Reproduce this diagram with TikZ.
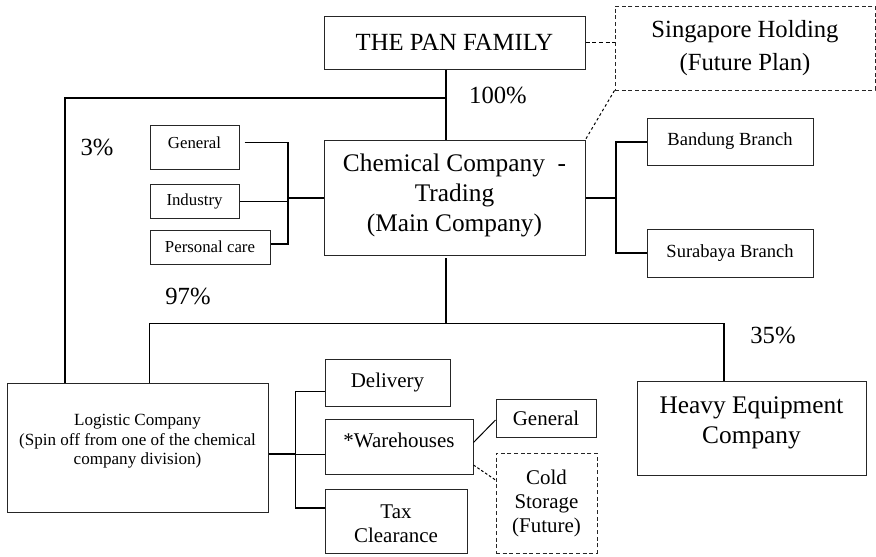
\documentclass[tikz,border=0pt]{standalone}
\usepackage{fontspec}
\setmainfont{Liberation Serif}
\begin{document}
\begin{tikzpicture}[x=0.75pt, y=-0.75pt,
  box/.style={draw=black!85, line width=0.75pt, align=center, inner sep=0pt},
  futurebox/.style={box, dash pattern=on 3pt off 2pt},
  main/.style={line width=1.5pt},
  thinline/.style={line width=0.75pt},
  lbl/.style={inner sep=0pt, font=\fontsize{18.5}{22}\selectfont},
  fhuge/.style={font=\fontsize{18.5}{24.75}\selectfont},
  fbig/.style={font=\fontsize{19}{22.5}\selectfont},
  fmid/.style={font=\fontsize{15.7}{17.5}\selectfont},
  fbranch/.style={font=\fontsize{13.9}{16}\selectfont},
  fsmall/.style={font=\fontsize{12.6}{14.6}\selectfont},
]
\useasboundingbox (0,0) rectangle (876,557);

% ---- top level ----
\node[box, fhuge, minimum width=195.75pt, minimum height=39.75pt] (pan) at (454.5,42.5) {THE PAN FAMILY};
\node[futurebox, fhuge, minimum width=195pt, minimum height=63pt] (sing) at (745,48) {Singapore Holding\\(Future Plan)};
\node[box, fbig, minimum width=195.75pt, minimum height=86.25pt, text depth=7pt] (chem) at (454.5,197.5) {Chemical Company\ \ -\\Trading\\(Main Company)};

% ---- divisions of the chemical company ----
\node[box, fsmall, minimum width=66.75pt, minimum height=33pt, text depth=6pt] (gen) at (194.5,147) {General};
\node[box, fsmall, minimum width=66.75pt, minimum height=25.5pt] (ind) at (194.5,201) {Industry};
\node[box, fsmall, minimum width=90pt, minimum height=25.5pt] (pc) at (210,247) {Personal care};

% ---- branches ----
\node[box, fbranch, minimum width=124.5pt, minimum height=35.25pt] (band) at (730,141.5) {Bandung Branch};
\node[box, fbranch, minimum width=124.5pt, minimum height=36pt] (sura) at (730,253) {Surabaya Branch};

% ---- subsidiaries ----
\node[box, font=\fontsize{12.8}{14.6}\selectfont, minimum width=195.75pt, minimum height=96.75pt, text depth=12pt] (logi) at (137.5,447.5) {Logistic Company\\(Spin off from one of the chemical\\company division)};
\node[box, fbig, minimum width=171.75pt, minimum height=70.5pt, text depth=12pt] (heavy) at (751.5,428) {Heavy Equipment\\Company};

% ---- logistic services ----
\node[box, fmid, minimum width=93.75pt, minimum height=35.25pt] (del) at (387.5,382.5) {Delivery};
\node[box, fmid, minimum width=111pt, minimum height=41.25pt, text depth=9.75pt] (wh) at (399,446.5) {*Warehouses};
\node[box, fmid, minimum width=106.5pt, minimum height=48pt, text height=32pt] (tax) at (396,521) {Tax\\Clearance};
\node[box, fmid, minimum width=75pt, minimum height=28.5pt] (whgen) at (546,418) {General};
\node[futurebox, font=\fontsize{15.7}{18}\selectfont, minimum width=75.75pt, minimum height=75pt] (cold) at (546.5,503) {Cold\\Storage\\(Future)};

% ---- ownership labels ----
\node[lbl] (p100) at (498,95) {100\%};
\node[lbl] (p3) at (97,147) {3\%};
\node[lbl] (p97) at (188,296) {97\%};
\node[lbl] (p35) at (773,335) {35\%};

% ---- junction points ----
\coordinate (famjoin) at (446,98);
\coordinate (leftcorner) at (65,98);
\coordinate (lbar) at (288,195);
\coordinate (rbar) at (616,195);
\coordinate (botjoin) at (446,323);
\coordinate (lcorner) at (149,323);
\coordinate (rcorner) at (724,323);
\coordinate (lgbar) at (295,454);
\coordinate (lgtop) at (295,391);
\coordinate (lgbot) at (295,508);

% ---- ownership lines ----
\draw[main] (famjoin |- pan.south) -- (famjoin |- chem.north);
\draw[main] (famjoin) -- (leftcorner) -- (leftcorner |- logi.north);
\draw[thinline, dash pattern=on 3pt off 2pt] (pan.east) -- (pan.east -| sing.west);
\draw[thinline, dash pattern=on 2pt off 2pt] (sing.south west) -- (chem.north east);

% divisions bracket
\draw[thinline] ([xshift=3.75pt, yshift=3.75pt]gen.east) -- ([yshift=3.75pt]gen.east -| lbar);
\draw[thinline] (ind.east) -- (ind.east -| lbar);
\draw[main] ([yshift=3.75pt]gen.east -| lbar) -- ([yshift=2pt]pc.east -| lbar) -- ([yshift=2pt]pc.east);
\draw[main] (chem.west) -- (chem.west -| lbar);

% branches bracket
\draw[main] (chem.east) -- (chem.east -| rbar);
\draw[main] (band.west) -- (band.west -| rbar) -- (sura.west -| rbar) -- (sura.west);

% subsidiaries
\draw[main] ([yshift=-2pt]botjoin |- chem.south) -- (botjoin);
\draw[thinline] (lcorner) -- (rcorner);
\draw[thinline] (lcorner) -- (lcorner |- logi.north);
\draw[main] (rcorner) -- (rcorner |- heavy.north);

% logistic services bracket
\draw[main] (lgbar -| logi.east) -- (lgbar);
\draw[thinline] (lgbar) -- (lgbar -| wh.west);
\draw[thinline] (lgtop -| del.west) -- (lgtop) -- (lgbot);
\draw[main] (lgbot) -- (lgbot -| tax.west);

% warehouse types
\draw[thinline] ([yshift=3pt]wh.east) -- ([yshift=-1.5pt]whgen.west);
\draw[thinline, dash pattern=on 2pt off 1.5pt] ([yshift=-13.9pt]wh.east) -- ([yshift=17.25pt]cold.west);
\end{tikzpicture}
\end{document}
